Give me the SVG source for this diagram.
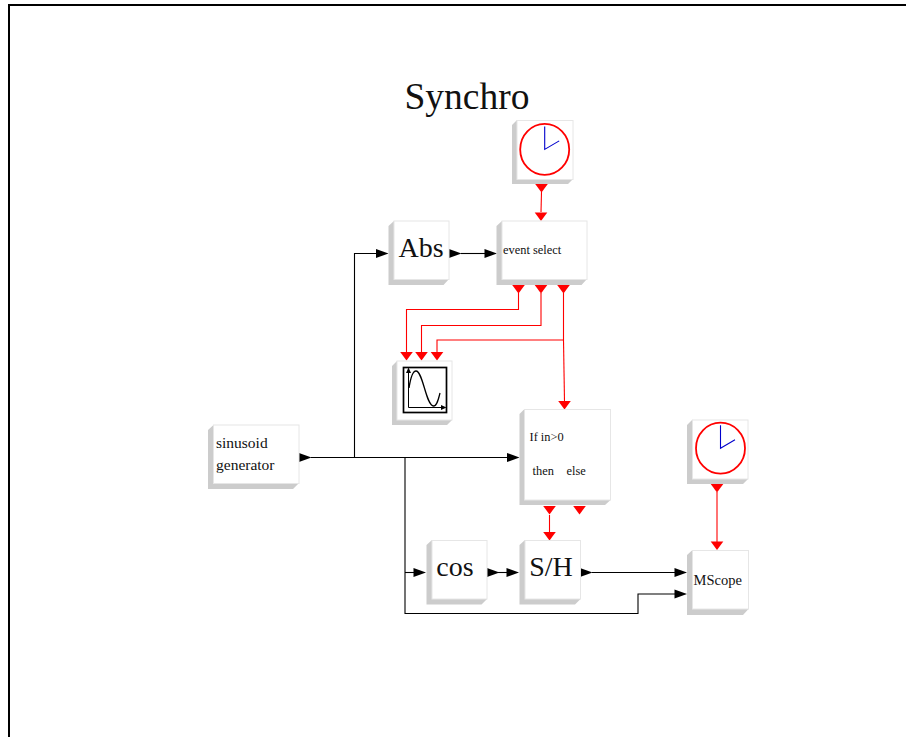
<svg xmlns="http://www.w3.org/2000/svg" width="906" height="737" viewBox="0 0 906 737">
<style>
.face{fill:#fff;stroke:#e6e6e6;stroke-width:1}
.shade{fill:#ccc}
text{font-family:"Liberation Serif","Times New Roman",serif;fill:#111}
.big{font-size:28px}
.small{font-size:15.500px}
.mid{font-size:12.400px}
.k{fill:none;stroke:#000;stroke-width:1.100}
.r{fill:none;stroke:#f00;stroke-width:1.100}
.ka{fill:#000}
.ra{fill:#f00}
.dial{fill:none;stroke:#f00;stroke-width:1.800}
.hand{fill:none;stroke:#00c;stroke-width:1.100}
</style>
<defs>
<g id="clock">
<ellipse cx="0" cy="0" rx="24.500" ry="25.500" class="dial"/>
<path d="M0 -23V0L14.500 -8.500" class="hand"/>
</g>
</defs>
<rect width="906" height="737" fill="#fff"/>
<path d="M9 737V5H906" fill="none" stroke="#000" stroke-width="2"/>
<text id="title" x="467" y="109" text-anchor="middle" font-size="37.500">Synchro</text>

<g id="connectors">
<path class="k" d="M311 457.500H405M354.500 457.500V253.500H377"/>
<path class="k" d="M405 457.500H508"/>
<path class="k" d="M461 253.500H485"/>
<path class="k" d="M405 458V613.500H638V594H675"/>
<path class="k" d="M405 572.500H414"/>
<path class="k" d="M498 572.500H507"/>
<path class="k" d="M592 572.500H675"/>
<path class="r" d="M541.500 192L541 212"/>
<path class="r" d="M518.500 293V309.500H406.500V352"/>
<path class="r" d="M541 293V325.500H421.500V352"/>
<path class="r" d="M563.500 293V340H437V352"/>
<path class="r" d="M563.500 340L564.500 402"/>
<path class="r" d="M549.500 515V532"/>
<path class="r" d="M717 492V542"/>
<g class="ka">
<path d="M299 453L311.500 457.500L299 462Z"/>
<path d="M376 249L388.500 253.500L376 258Z"/>
<path d="M449 249L461.500 253.500L449 258Z"/>
<path d="M484.500 249L497 253.500L484.500 258Z"/>
<path d="M507 453L519.500 457.500L507 462Z"/>
<path d="M413.500 568L426 572.500L413.500 577Z"/>
<path d="M487 568L499.500 572.500L487 577Z"/>
<path d="M506.500 568L519 572.500L506.500 577Z"/>
<path d="M580 568L592.500 572.500L580 577Z"/>
<path d="M674.500 568L687 572.500L674.500 577Z"/>
<path d="M674.500 589.500L687 594L674.500 598.500Z"/>
</g>
<g class="ra">
<path d="M535.200 184H547.800L541.500 192.500Z"/>
<path d="M534.700 212.500H547.300L541 221Z"/>
<path d="M512.200 285H524.800L518.500 293.500Z"/>
<path d="M534.700 285H547.300L541 293.500Z"/>
<path d="M557.200 285H569.800L563.500 293.500Z"/>
<path d="M400.200 352H412.800L406.500 360.500Z"/>
<path d="M415.200 352H427.800L421.500 360.500Z"/>
<path d="M430.700 352H443.300L437 360.500Z"/>
<path d="M558.200 401H570.800L564.500 409.500Z"/>
<path d="M543.200 506H555.800L549.500 514.500Z"/>
<path d="M573.200 506H585.800L579.500 514.500Z"/>
<path d="M543.200 532H555.800L549.500 540.500Z"/>
<path d="M710.700 484H723.300L717 492.500Z"/>
<path d="M710.700 541.500H723.300L717 550Z"/>
</g>
</g>

<g id="clock1">
<path class="shade" d="M512 125L517 120V179H573L568 184H512Z"/>
<rect class="face" x="517" y="120.500" width="56" height="59"/>
<use href="#clock" x="544.700" y="149.400"/>
</g>
<g id="abs">
<path class="shade" d="M388.500 226L394 221V279H449L443.500 285H388.500Z"/>
<rect class="face" x="394" y="221" width="55" height="58.500"/>
<text class="big" x="421" y="257" text-anchor="middle">Abs</text>
</g>
<g id="event-select">
<path class="shade" d="M496.500 226L502 221V279H587L581.500 285H496.500Z"/>
<rect class="face" x="502" y="221" width="85" height="58.500"/>
<text class="mid" x="503" y="254">event select</text>
</g>
<g id="scope">
<path class="shade" d="M392 366L397 361V420H452L447 425H392Z"/>
<rect class="face" x="397" y="361" width="55" height="59"/>
<rect x="403.500" y="367.500" width="43" height="45" fill="none" stroke="#000" stroke-width="1.700"/>
<path d="M408.500 371V407.500H444" fill="none" stroke="#000" stroke-width="1"/>
<path d="M408.500 367.500L406 373H411Z"/>
<path d="M446.500 407.500L441 405V410Z"/>
<path d="M409 388C411 375 413 371 416 371C423 371 426 406 433.500 406C437 406 438.500 399 440 393" fill="none" stroke="#000" stroke-width="1.300"/>
</g>
<g id="if-then-else">
<path class="shade" d="M519.500 414L524.500 409V500H610.500L605 505H519.500Z"/>
<rect class="face" x="524.500" y="409.500" width="86" height="90.500"/>
<text class="mid" x="529.500" y="441">If in&gt;0</text>
<text class="mid" x="532.500" y="475">then</text>
<text class="mid" x="566.500" y="475">else</text>
</g>
<g id="sinusoid-generator">
<path class="shade" d="M208 430L213.500 425V483H299L293 489H208Z"/>
<rect class="face" x="213.500" y="425" width="85.500" height="58.500"/>
<text class="small" x="216" y="448">sinusoid</text>
<text class="small" x="216" y="470">generator</text>
</g>
<g id="clock2">
<path class="shade" d="M687 425L692.500 419.500V479H748L743 484H687Z"/>
<rect class="face" x="692.500" y="420" width="55.500" height="59"/>
<use href="#clock" x="720.500" y="448.200"/>
</g>
<g id="cos">
<path class="shade" d="M426.500 545L432 540V599H487L481.500 604.500H426.500Z"/>
<rect class="face" x="432" y="540.500" width="55" height="58.500"/>
<text class="big" x="455" y="576" text-anchor="middle">cos</text>
</g>
<g id="sample-hold">
<path class="shade" d="M519.500 545L525 540V599H580.500L575 604.500H519.500Z"/>
<rect class="face" x="525" y="540.500" width="55.500" height="58.500"/>
<text class="big" x="551" y="576" text-anchor="middle">S/H</text>
</g>
<g id="mscope">
<path class="shade" d="M687 555L692.500 550V609H748.500L743 615H687Z"/>
<rect class="face" x="692.500" y="550.500" width="56" height="58.500"/>
<text x="693.500" y="585" style="font-size:14.500px">MScope</text>
</g>
</svg>
